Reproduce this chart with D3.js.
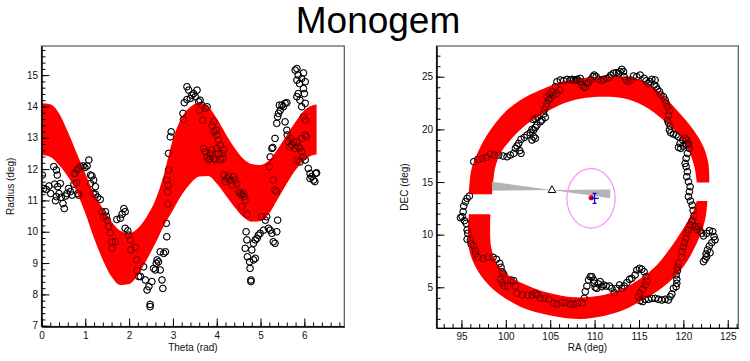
<!DOCTYPE html>
<html><head><meta charset="utf-8">
<script src="https://cdn.jsdelivr.net/npm/d3@7"></script>
<style>body{margin:0;background:#fff}svg{display:block}text{font-family:"Liberation Sans",Arial,sans-serif}</style>
</head><body><svg width="750" height="361"></svg>
<script>
// ---------------- data ----------------
const TITLE = "Monogem";
const leftXTitle = "Theta (rad)", leftYTitle = "Radius (deg)";
const rightXTitle = "RA (deg)", rightYTitle = "DEC (deg)";
const thetaRange = [0, 6.912], radiusRange = [6.975, 15.93];
const raRange = [92.19, 126.19], decRange = [1.135, 27.92];
const thetaTicks = [0,1,2,3,4,5,6];
const radiusTicks = [7,8,9,10,11,12,13,14,15];
const raTicks = [95,100,105,110,115,120,125];
const decTicks = [5,10,15,20,25];

// red model band (left): theta samples with upper / lower envelope
const bandTheta = [0,0.2,0.4,0.6,0.8,1.0,1.2,1.4,1.6,1.8,2.0,2.2,2.4,2.6,2.8,3.0,3.2,3.4,3.6,3.8,4.0,4.2,4.4,4.6,4.8,5.0,5.2,5.4,5.6,5.8,6.0,6.2,6.28];
const bandUpper = [14.10,14.07,13.78,13.19,12.52,11.86,11.22,10.74,10.32,10.03,9.95,10.11,10.48,11.01,11.86,12.95,13.65,13.99,14.12,14.01,13.62,13.14,12.69,12.34,12.16,12.13,12.29,12.66,13.09,13.51,13.88,14.04,14.06];
const bandLower = [12.45,12.39,12.13,11.76,11.28,10.59,9.79,9.10,8.56,8.30,8.33,8.62,9.10,9.63,10.21,10.69,11.17,11.54,11.76,11.78,11.54,11.17,10.80,10.48,10.32,10.34,10.59,11.06,11.54,11.97,12.29,12.45,12.47];

// observed points (left): [theta, radius]
const obsThetaRadius = [
[0.02,11.81],[0.05,11.38],[0.11,11.35],[0.17,11.46],[0.21,11.22],[0.28,12.08],[0.34,11.97],[0.30,11.52],[0.36,11.81],[0.37,11.44],[0.34,11.12],[0.32,10.99],[0.40,11.22],[0.43,11.54],[0.45,11.10],[0.49,10.90],[0.52,10.74],[0.55,11.14],[0.58,11.22],
[0.62,11.38],[0.66,11.28],[0.70,11.17],[0.74,11.86],[0.77,11.86],[0.81,11.97],[0.85,12.02],[0.89,12.08],[0.95,12.10],[0.99,12.05],[1.04,12.10],[1.08,12.29],[0.74,11.52],[0.80,11.56],[0.83,11.22],[0.85,11.17],[1.12,11.81],[1.15,11.78],[1.19,11.65],[1.23,11.44],[1.12,11.54],[1.18,11.22],[1.23,11.20],[1.28,11.10],[1.34,11.03],
[1.38,10.64],[1.46,10.64],[1.42,10.48],[1.48,10.50],[1.50,10.37],[1.53,10.16],[1.57,9.97],[1.61,9.68],[1.61,9.47],[1.69,9.68],[1.72,10.39],[1.80,10.43],[1.84,10.56],[1.88,10.74],[1.91,10.64],[1.91,10.11],[1.97,10.03],[1.99,9.89],[2.03,9.74],[2.04,9.42],[2.14,9.50],[2.17,9.10],[2.18,8.76],[2.22,8.57],
[2.26,8.57],[2.33,8.88],[2.37,8.46],[2.41,8.14],[2.45,8.25],[2.48,7.68],[2.48,7.61],[2.52,8.41],[2.56,8.83],[2.60,8.78],[2.62,8.99],[2.64,9.10],[2.67,9.04],[2.71,9.36],[2.75,8.46],[2.77,8.19],[2.79,9.31],[2.83,9.36],[2.71,8.78],
[2.85,10.27],[2.86,9.84],[2.88,10.88],[2.88,11.28],[2.89,11.49],[2.86,11.65],[2.90,11.97],[2.90,12.50],[2.94,13.03],[2.96,13.19],
[3.23,13.78],[3.24,13.58],[3.26,14.12],[3.32,14.22],[3.32,14.63],[3.36,14.52],[3.40,14.26],[3.43,14.36],[3.47,14.41],[3.51,14.31],[3.55,14.52],[3.59,14.15],[3.62,14.20],[3.66,14.04],[3.68,13.56],[3.61,13.88],[3.74,13.94],[3.78,13.99],
[3.70,12.66],[3.74,12.55],[3.78,12.39],[3.81,12.29],[3.85,12.50],[3.89,13.40],[3.93,13.51],[3.94,13.19],[3.99,13.24],[4.00,13.09],[4.04,12.93],[4.08,12.77],[4.12,12.50],[4.14,12.34],[3.97,12.29],[4.00,12.66],[3.89,12.61],[3.85,12.34],[3.93,12.34],[4.04,12.50],[4.08,12.29],[4.16,12.61],
[4.16,11.81],[4.19,11.60],[4.23,11.70],[4.27,11.76],[4.31,11.65],[4.35,11.49],[4.38,11.76],[4.42,11.65],[4.46,11.54],[4.50,11.28],[4.54,11.22],[4.57,11.17],[4.61,11.22],[4.63,11.12],[4.65,11.01],[4.69,10.56],[4.57,10.80],
[4.67,10.00],[4.69,9.74],[4.65,9.47],[4.70,9.20],[4.75,9.04],[4.76,8.83],[4.84,9.63],[4.88,9.74],[4.92,9.79],[4.95,9.89],[4.99,9.95],[5.03,10.48],[5.07,10.05],[5.11,10.37],[5.14,10.48],[5.18,10.11],[5.22,10.05],[5.26,9.95],[5.29,9.68],[5.33,9.63],[5.37,10.00],[5.39,10.37],[4.78,8.46],[4.78,8.41],[4.80,9.42],[4.84,9.10],[4.88,9.15],
[5.20,12.08],[5.22,12.39],[5.26,12.66],[5.28,12.69],[5.29,11.65],[5.33,11.33],[5.37,11.28],[5.33,12.98],[5.37,13.46],[5.39,13.67],[5.41,13.78],[5.43,14.04],[5.49,14.04],[5.52,13.99],[5.56,14.10],[5.60,14.12],[5.45,13.88],[5.56,13.51],[5.60,13.24],[5.61,13.09],[5.64,12.87],[5.67,12.71],[5.71,12.77],[5.69,12.98],[5.75,12.87],
[5.79,15.16],[5.83,15.21],[5.86,15.00],[5.83,14.84],[5.89,14.73],[5.94,14.89],[5.98,15.07],[6.02,14.79],[5.98,14.57],[6.00,14.41],[5.86,14.41],[5.83,14.31],[5.90,14.20],[5.94,13.99],[6.02,14.10],[5.98,13.67],[6.02,13.56],[5.86,12.71],[5.90,12.66],[5.94,12.55],[5.98,12.39],[6.02,12.29],[5.94,12.98],[6.02,13.09],[6.05,13.03],[5.83,12.29],[5.90,12.23],[5.79,12.66],[5.83,12.87],
[6.09,12.02],[6.13,11.86],[6.17,11.76],[6.21,11.65],[6.24,11.60],[6.26,11.86],[6.28,11.88],[6.13,11.70]
];

// red model arcs (right): [RA, DEC] edges
const upperArcOuter = [[95.83,13.85],[95.94,15.19],[96.20,16.46],[97.14,18.36],[98.26,19.94],[99.76,21.52],[101.64,22.79],[103.89,23.74],[105.76,24.37],[108.39,24.84],[111.01,25.00],[114.76,24.84],[117.01,23.74],[119.26,21.84],[121.14,19.94],[122.26,18.36],[122.82,16.77],[122.93,14.95]];
const upperArcInner = [[98.45,13.85],[98.64,15.51],[98.83,16.46],[99.39,17.72],[100.51,18.99],[102.01,20.26],[103.89,21.31],[106.14,22.35],[108.39,22.92],[111.01,23.10],[113.26,22.95],[115.51,22.25],[117.76,20.89],[119.64,19.30],[120.76,17.72],[121.32,16.14],[121.51,14.95]];
const lowerArcOuter = [[95.83,11.95],[95.80,8.86],[96.58,6.96],[97.89,5.38],[99.39,4.27],[101.64,3.16],[103.89,2.53],[106.14,2.15],[108.39,1.99],[111.01,2.28],[113.26,2.85],[114.76,3.48],[117.76,5.06],[120.01,6.96],[121.51,9.18],[122.45,11.39],[122.71,13.2]];
const lowerArcInner = [[98.26,11.95],[98.34,8.86],[99.01,7.28],[100.51,6.01],[102.76,5.06],[105.01,4.43],[107.64,4.05],[111.01,4.27],[114.01,5.22],[116.64,6.80],[118.51,8.70],[120.01,10.60],[121.14,12.28],[121.51,13.2]];

// observed points (right): [RA, DEC]
const obsRaDec = [
[95.64,13.45],[95.90,13.67],[95.45,13.13],[95.26,12.72],[95.19,12.18],[95.08,11.71],[94.89,11.61],[95.34,11.33],[95.53,11.07],[95.64,10.44],[95.71,10.13],[95.64,9.56],[96.01,9.49],[96.09,9.11],[96.39,8.92],[96.58,8.48],[96.58,8.16],[96.84,7.85],[97.44,7.72],[97.96,7.85],[98.56,7.85],[98.94,7.66],[99.31,7.28],[99.46,6.90],[99.58,6.48],[99.76,6.26],[99.39,5.76],[99.58,5.44],[99.84,5.12],[100.21,5.12],[100.59,5.69],[100.89,5.63],[101.08,5.12],[101.26,4.43],[101.83,4.27],[102.46,4.27],[102.95,4.27],[103.33,4.43],[103.51,4.27],[103.89,3.95],[104.34,3.95],[104.83,3.86],[105.39,3.48],[105.76,3.41],[106.33,3.54],[106.70,3.54],
[107.26,3.41],[107.63,3.41],[108.08,3.48],[108.57,3.54],[108.83,3.95],[108.95,4.59],[109.13,5.12],[109.32,5.69],[109.51,6.01],[109.70,6.01],[109.88,5.69],[110.07,4.99],[109.96,5.38],[110.26,4.90],[110.45,5.31],[110.63,5.54],[110.82,5.06],[111.01,5.22],[111.31,5.12],[111.68,5.12],[111.95,4.90],[112.21,4.49],[112.51,4.90],[112.81,5.22],[113.07,4.90],[113.33,5.12],[113.63,5.44],[113.93,5.76],[114.20,5.85],[114.57,6.17],[114.76,6.64],[115.06,6.80],[115.32,6.71],[115.58,6.48],[115.81,6.01],[115.88,5.54],[115.70,5.22],[115.43,4.81],[115.13,4.43],[114.95,4.11],[115.13,3.73],[115.43,3.64],[115.70,3.86],[116.07,3.86],[116.45,3.95],[116.82,3.95],[117.20,3.86],[117.57,3.79],[117.95,3.86],[118.32,3.79],[118.51,4.11],[118.70,4.36],[118.88,4.90],[119.18,5.06],[119.26,5.38],[119.26,5.76],[119.18,6.17],[119.33,6.58],[119.33,6.90],[119.45,7.28],[119.82,7.85],[119.82,8.39],[120.01,8.86],[120.12,9.24],[120.31,9.65],[120.38,10.13],[120.57,10.44],[120.76,10.92],[120.95,11.24],[121.06,11.39],[121.32,10.76],[121.51,10.51],[121.70,10.76],[121.88,10.38],[122.07,10.13],[122.26,9.88],[122.63,10.13],[122.93,10.38],[123.31,10.29],[123.46,9.81],[123.57,9.50],[123.20,9.24],[122.93,8.92],[122.71,8.55],[122.56,8.16],[122.45,7.66],[122.26,7.44],[122.63,7.91],[123.01,8.29],
[121.2,11.8],[121.1,12.3],[121.0,12.8],[120.8,13.2],
[120.57,13.61],[120.68,14.08],[120.76,14.56],[120.57,15.03],[120.38,15.51],[120.46,15.98],[120.31,16.46],[120.20,16.77],[120.31,17.25],[120.46,17.72],[120.68,18.20],[120.57,18.51],[120.31,18.61],[120.01,18.42],[119.71,18.20],[119.45,18.29],[119.63,18.67],[119.93,18.99],[120.20,19.15],[120.38,18.99],[120.57,18.67],[119.45,19.30],[119.18,19.46],[118.88,19.56],[118.58,19.68],[118.43,19.94],[118.51,20.32],[118.32,20.63],[118.21,20.89],[118.32,21.36],[118.43,21.77],[118.21,22.15],[118.06,22.47],[117.95,22.79],[117.76,23.10],[117.46,23.26],[117.31,23.58],[117.08,23.80],[116.93,24.05],[116.71,24.21],[116.82,24.69],[116.45,24.75],[116.26,24.53],[116.07,24.37],[115.81,24.62],[115.58,24.84],[115.13,25.16],[114.76,25.00],[114.38,25.07],[114.08,24.69],[113.82,24.53],[113.56,24.69],[113.33,25.00],[113.26,25.48],[113.07,25.70],[112.88,25.48],[112.70,25.32],[112.43,25.38],[112.13,25.32],[111.83,25.16],[111.68,24.94],[111.38,24.84],[111.01,24.75],[110.82,24.62],[110.45,24.75],[110.18,25.00],[109.96,25.16],[109.81,25.00],[109.51,24.69],[109.32,24.43],[109.13,24.37],[108.95,23.99],[108.76,24.05],[108.57,24.21],[108.38,24.53],[108.08,24.69],[107.82,24.62],[107.45,24.75],[107.26,24.69],
[108.39,24.84],[108.01,24.75],[107.64,24.69],[106.89,24.75],[106.51,24.62],[106.14,24.69],[105.76,24.53],[105.58,24.05],[106.06,23.74],[105.76,23.42],[105.39,23.26],[105.20,23.58],[104.94,23.36],[104.64,23.10],[105.01,22.95],[104.83,22.79],[104.64,22.47],[104.56,22.15],[104.34,21.84],[104.26,21.46],[104.45,21.14],[104.08,20.89],[103.89,20.73],[103.59,21.14],[103.33,21.01],[103.06,20.95],[103.51,20.41],[103.33,20.19],[103.14,19.94],[102.95,20.00],[102.76,19.68],[102.39,19.46],[102.09,19.24],[103.14,19.30],[103.33,19.15],[102.95,18.99],[101.71,19.05],[101.45,18.67],[101.26,18.42],[101.08,18.20],[101.71,17.72],[101.56,17.98],[100.89,17.72],[100.51,17.56],[100.14,17.40],[99.69,17.47],[99.20,17.56],[98.71,17.56],[98.26,17.66],[97.81,17.34],[97.33,17.25],[96.84,17.15],[96.39,16.93]
];

// direction wedge (grey), apex marker, source, fitted centre, ellipse
const wedgeRaDec = [[98.45,15.03],[105.2,14.24],[111.76,14.30],[111.76,13.45],[105.2,14.24],[98.45,14.17]];
const apexRaDec = [105.2, 14.22];
const sourceRaDec = [109.62, 13.51];
const fitRaDec = [110.0, 13.45], fitErr = [0.47, 0.48];
const ellipseCenter = [109.6, 13.45], ellipseRadii = [2.72, 2.82];

// ---------------- drawing ----------------
const svg = d3.select("svg");
const FONT = '"Liberation Sans",Arial,sans-serif';
svg.append("text").attr("x",378).attr("y",33).attr("text-anchor","middle")
  .attr("font-size",37).attr("fill","#000").text(TITLE);

const LF = {x0:41.5,x1:344.3,y0:46,y1:326.5};
const RF = {x0:436.5,x1:738.3,y0:46,y1:328};
const xL = d3.scaleLinear().domain(thetaRange).range([LF.x0,LF.x1]);
const yL = d3.scaleLinear().domain(radiusRange).range([LF.y1,LF.y0]);
const xR = d3.scaleLinear().domain(raRange).range([RF.x0,RF.x1]);
const yR = d3.scaleLinear().domain(decRange).range([RF.y1,RF.y0]);

const defs = svg.append("defs");
function clipFor(id,F){
  defs.append("clipPath").attr("id",id).append("rect")
    .attr("x",F.x0).attr("y",F.y0).attr("width",F.x1-F.x0).attr("height",F.y1-F.y0);
}
clipFor("cl",LF); clipFor("cr",RF);

function drawCircles(g, pts, x, y, op){
  g.selectAll(null).data(pts).join("circle")
    .attr("cx",d=>x(d[0])).attr("cy",d=>y(d[1])).attr("r",3.3)
    .attr("fill","none").attr("stroke","#000").attr("stroke-width",1).attr("stroke-opacity",op);
}

// ----- left panel -----
const gl = svg.append("g").attr("clip-path","url(#cl)");
const obsL = obsThetaRadius;
drawCircles(gl, obsL, xL, yL, 1);
const band = bandTheta.map((t,i)=>({t,u:bandUpper[i],l:bandLower[i]}));
gl.append("path").datum(band)
  .attr("d", d3.area().x(d=>xL(d.t)).y0(d=>yL(d.l)).y1(d=>yL(d.u)).curve(d3.curveMonotoneX))
  .attr("fill","#ff0000");
drawCircles(gl, obsL, xL, yL, 0.5);

// ----- right panel -----
const gr = svg.append("g").attr("clip-path","url(#cr)");
drawCircles(gr, obsRaDec, xR, yR, 1);
function arcPath(outer, inner){
  const ln = d3.line().x(d=>xR(d[0])).y(d=>yR(d[1])).curve(d3.curveCatmullRom);
  const a = ln(outer);
  const b = ln(inner.slice().reverse());
  return a + "L" + b.slice(1) + "Z";
}
gr.append("path").attr("d",arcPath(upperArcOuter,upperArcInner)).attr("fill","#ff0000");
gr.append("path").attr("d",arcPath(lowerArcOuter,lowerArcInner)).attr("fill","#ff0000");
drawCircles(gr, obsRaDec, xR, yR, 0.5);

gr.append("path").attr("d", d3.line().x(d=>xR(d[0])).y(d=>yR(d[1]))(wedgeRaDec)+"Z")
  .attr("fill","#b4b4b4").attr("stroke","none");
gr.append("ellipse").attr("cx",xR(ellipseCenter[0])).attr("cy",yR(ellipseCenter[1]))
  .attr("rx",xR(ellipseCenter[0]+ellipseRadii[0])-xR(ellipseCenter[0]))
  .attr("ry",yR(ellipseCenter[1])-yR(ellipseCenter[1]+ellipseRadii[1]))
  .attr("fill","none").attr("stroke","#ff8cff").attr("stroke-width",1.2);
gr.append("path").attr("transform",`translate(${xR(apexRaDec[0])},${yR(apexRaDec[1])})`)
  .attr("d", d3.symbol(d3.symbolTriangle, 26)()).attr("fill","#fff").attr("stroke","#000").attr("stroke-width",1);
gr.append("circle").attr("cx",xR(sourceRaDec[0])).attr("cy",yR(sourceRaDec[1])).attr("r",2.6).attr("fill","#ff0000");
const fx = xR(fitRaDec[0]), fy = yR(fitRaDec[1]);
const ex0 = xR(fitRaDec[0]-fitErr[0]), ex1 = xR(fitRaDec[0]+fitErr[0]);
const ey0 = yR(fitRaDec[1]+fitErr[1]), ey1 = yR(fitRaDec[1]-fitErr[1]);
const gb = gr.append("g").attr("stroke","#0000ff").attr("stroke-width",1.2);
gb.append("line").attr("x1",ex0).attr("x2",ex1).attr("y1",fy).attr("y2",fy);
gb.append("line").attr("x1",fx).attr("x2",fx).attr("y1",ey0).attr("y2",ey1);
gb.append("line").attr("x1",fx-2).attr("x2",fx+2).attr("y1",ey0).attr("y2",ey0);
gb.append("line").attr("x1",fx-2).attr("x2",fx+2).attr("y1",ey1).attr("y2",ey1);

// ----- axes -----
function axes(F,x,y,xMaj,xMin,yMaj,yMin,xTitle,yTitle,yTitleX){
  const g = svg.append("g");
  const style = s => s.attr("font-family",FONT).attr("font-size",10);
  g.append("rect").attr("x",F.x0).attr("y",F.y0).attr("width",F.x1-F.x0).attr("height",F.y1-F.y0)
    .attr("fill","none").attr("stroke","#555").attr("stroke-width",1.2);
  g.append("g").attr("transform",`translate(0,${F.y1})`)
    .call(d3.axisBottom(x).tickValues(xMin).tickSize(-4).tickSizeOuter(0).tickFormat(""));
  g.append("g").attr("transform",`translate(0,${F.y1})`)
    .call(d3.axisBottom(x).tickValues(xMaj).tickSize(-8).tickSizeOuter(0).tickPadding(5).tickFormat(d3.format("d"))).call(style);
  g.append("g").attr("transform",`translate(${F.x0},0)`)
    .call(d3.axisLeft(y).tickValues(yMin).tickSize(-4).tickSizeOuter(0).tickFormat(""));
  g.append("g").attr("transform",`translate(${F.x0},0)`)
    .call(d3.axisLeft(y).tickValues(yMaj).tickSize(-8).tickSizeOuter(0).tickPadding(3.5).tickFormat(d3.format("d"))).call(style);
  g.selectAll("text").attr("fill","#111");
  g.append("text").attr("x",(F.x0+F.x1)/2).attr("y",351).attr("text-anchor","middle")
    .attr("font-size",10).attr("fill","#111").text(xTitle);
  g.append("text").attr("transform",`translate(${yTitleX},${(F.y0+F.y1)/2}) rotate(-90)`)
    .attr("text-anchor","middle").attr("font-size",10).attr("fill","#111").text(yTitle);
}
axes(LF,xL,yL,thetaTicks,d3.range(0,6.91,0.2),radiusTicks,d3.range(7,15.95,0.2),leftXTitle,leftYTitle,14);
axes(RF,xR,yR,raTicks,d3.range(93,126.1,1),decTicks,d3.range(2,27.9,1),rightXTitle,rightYTitle,408);
</script></body></html>
